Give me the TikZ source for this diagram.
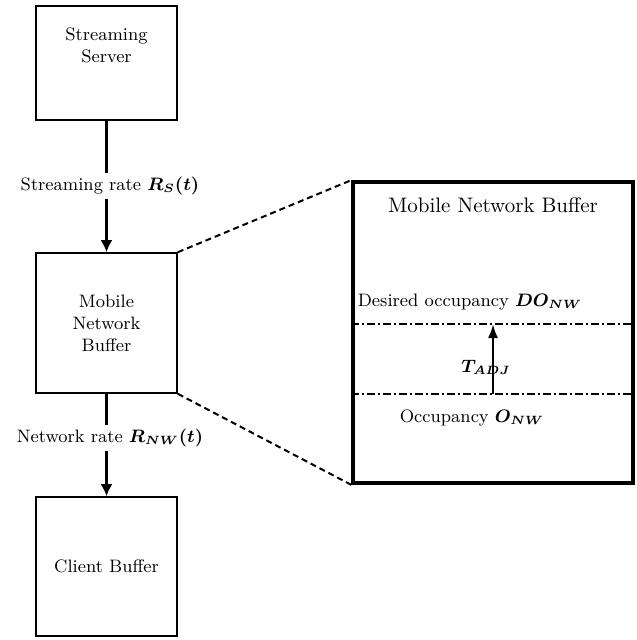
\documentclass[tikz,border=0pt]{standalone}
\usepackage{amsmath,amssymb}
\usepackage{bm}
\usepackage{tikz}
\usetikzlibrary{calc, arrows.meta}
\tikzset{>={Latex[length=6pt, width=6pt]}}

\begin{document}
\begin{tikzpicture}[
    x = 0.5pt, y = -0.5pt,
    b0/.style = {draw, line width = 0.8pt, minimum width = 70.5pt, inner sep = 0pt, align = center, font = \fontsize{9}{11}\selectfont},
    b1/.style = {draw, line width = 1.8pt, minimum width = 140pt, minimum height = 150.5pt, inner sep = 0pt},
    d0/.style = {line width = 1.5pt},
    d1/.style = {line width = 1pt, dash pattern = on 3pt off 2pt},
    d2/.style = {line width = 1pt, dash pattern = on 4pt off 1.5pt on 1pt off 1.5pt},
    t0/.style = {font = \fontsize{9}{11}\selectfont, inner sep = 2pt},
    t1/.style = {font = \fontsize{10.5}{13}\selectfont, inner sep = 2pt},
]
\useasboundingbox (0,0) rectangle (636,640);

\node[b0, minimum height = 57pt, label = {[t0, align = center, anchor = north, yshift = -9pt]north:Streaming\\Server}] (server) at (106.5,63) {};
\node[b0, minimum height = 70pt] (mnb) at (106.5,323) {Mobile\\Network\\Buffer};
\node[b0, minimum height = 69.5pt] (client) at (106.5,566.5) {Client Buffer};

\node[t0] (srate) at (110,186) {Streaming rate $\bm{R_S(t)}$};
\node[t0] (nrate) at (110,438) {Network rate $\bm{R_{NW}(t)}$};

\draw[d0] (server.south) -- (server.south |- srate.north);
\draw[d0, ->] (server.south |- srate.south) -- (mnb.north);
\draw[d0] (mnb.south) -- (mnb.south |- nrate.north);
\draw[d0, ->] (mnb.south |- nrate.south) -- (client.north);

\node[b1] (nwb) at (493,332.5) {};
\node[t1, anchor = north] (title) at ($(nwb.north)+(0,13)$) {Mobile Network Buffer};

\draw[d1] (mnb.north east) -- (nwb.north west);
\draw[d1] (mnb.south east) -- (nwb.south west);

\coordinate (do) at (493,324);
\coordinate (o) at (493,394);
\draw[d2] (nwb.west |- do) -- (nwb.east |- do);
\draw[d2] (nwb.west |- o) -- (nwb.east |- o);
\draw[line width = 1.2pt, -{Latex[length=7pt, width=5pt]}] (o) -- (do);

\node[t0] (dolabel) at (470,302) {Desired occupancy $\bm{DO_{NW}}$};
\node[t0] (olabel) at (472,418) {Occupancy $\bm{O_{NW}}$};
\node[t0] (tadj) at (486,367) {$\bm{T_{ADJ}}$};
\end{tikzpicture}
\end{document}
